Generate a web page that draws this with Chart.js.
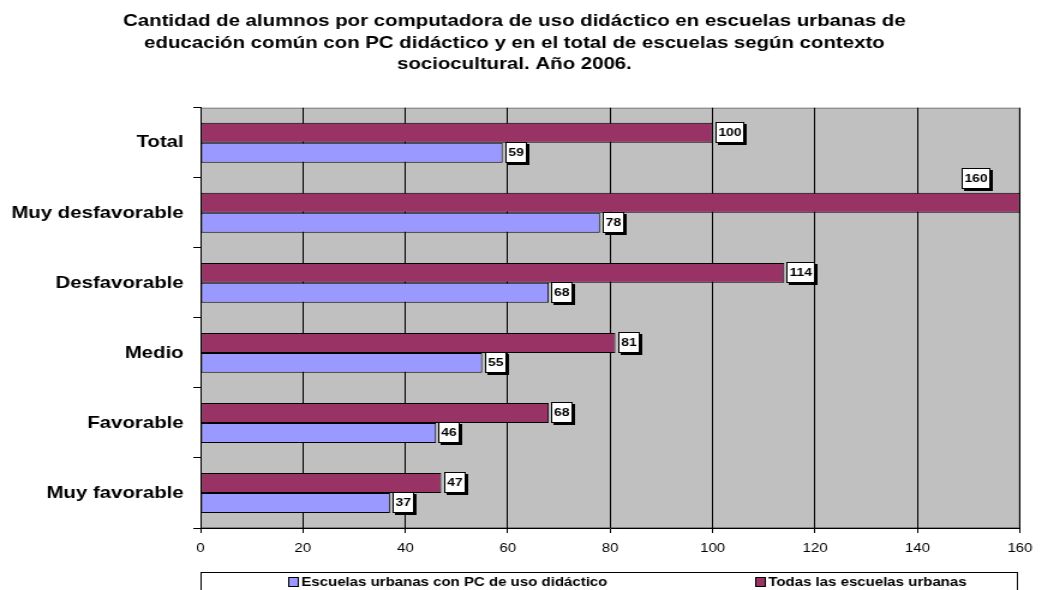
<!DOCTYPE html>
<html>
<head>
<meta charset="utf-8">
<script src="https://cdn.jsdelivr.net/npm/chart.js@4.4.0/dist/chart.umd.min.js"></script>
<style>
  html, body { margin: 0; padding: 0; background: #ffffff; overflow: hidden; }
  #wrap { width: 868px; height: 590px; transform: scaleX(1.2005); transform-origin: 0 0; }
  canvas { display: block; }
</style>
</head>
<body>
<div id="wrap"><canvas id="c" width="868" height="590"></canvas></div>
<script>
// ---- data ----
const categories = ["Total", "Muy desfavorable", "Desfavorable", "Medio", "Favorable", "Muy favorable"];
const conPC = [59, 78, 68, 55, 46, 37];
const todas = [100, 160, 114, 81, 68, 47];
const xTicks = [0, 20, 40, 60, 80, 100, 120, 140, 160];
const seriesNames = ["Escuelas urbanas con PC de uso didáctico", "Todas las escuelas urbanas"];
const titleLines = [
  "Cantidad de alumnos por computadora de uso didáctico en escuelas urbanas de",
  "educación común con PC didáctico y en el total de escuelas según contexto",
  "sociocultural. Año 2006."
];

const FAMILY = "'Liberation Sans', Arial, Helvetica, sans-serif";
const COLOR_PC = "#9999FF";
const COLOR_TODAS = "#993366";

const plotBg = {
  id: "plotBg",
  beforeDraw(chart) {
    const a = chart.chartArea, ctx = chart.ctx;
    ctx.save();
    ctx.fillStyle = "#C0C0C0";
    ctx.fillRect(a.left, a.top, a.right - a.left, a.bottom - a.top);
    ctx.strokeStyle = "#808080";
    ctx.lineWidth = 1;
    ctx.strokeRect(a.left + 0.5, a.top + 0.5, a.right - a.left - 1, a.bottom - a.top - 1);
    ctx.restore();
  }
};

const dataLabels = {
  id: "dataLabels",
  afterDatasetsDraw(chart) {
    const ctx = chart.ctx, area = chart.chartArea;
    ctx.save();
    ctx.font = "bold 11.5px " + FAMILY;
    ctx.textAlign = "center";
    ctx.textBaseline = "middle";
    chart.data.datasets.forEach((ds, di) => {
      chart.getDatasetMeta(di).data.forEach((bar, i) => {
        const txt = String(ds.data[i]);
        const w = Math.round(ctx.measureText(txt).width + 5);
        const h = 21;
        let x = bar.x + 2;
        let cy = bar.y;
        if (x + w + 3 > area.right) { x = bar.x - 25 - w; cy = bar.y - 24.5; }
        x = Math.round(x);
        const y = Math.round(cy - h / 2);
        ctx.fillStyle = "#000";
        ctx.fillRect(x + 2, y + 2, w, h);
        ctx.fillStyle = "#fff";
        ctx.fillRect(x, y, w, h);
        ctx.strokeStyle = "#000";
        ctx.lineWidth = 1;
        ctx.strokeRect(x + 0.5, y + 0.5, w - 1, h - 1);
        ctx.fillStyle = "#000";
        ctx.fillText(txt, x + w / 2, y + h / 2 + 0.5);
      });
    });
    ctx.restore();
  }
};

const boxLegend = {
  id: "boxLegend",
  afterDraw(chart) {
    const ctx = chart.ctx;
    ctx.save();
    ctx.strokeStyle = "#000";
    ctx.lineWidth = 1;
    ctx.strokeRect(167.5, 572.5, 680, 40);
    ctx.font = "bold 12.5px " + FAMILY;
    ctx.textBaseline = "middle";
    ctx.textAlign = "left";
    const cy = 582;
    const items = [
      { text: seriesNames[0], color: COLOR_PC, endX: 506 },
      { text: seriesNames[1], color: COLOR_TODAS, sqX: 629 }
    ];
    items.forEach(it => {
      const tw = ctx.measureText(it.text).width;
      const sq = it.sqX !== undefined ? it.sqX : Math.round(it.endX - tw - 11);
      ctx.fillStyle = it.color;
      ctx.fillRect(sq, cy - 5, 8, 9);
      ctx.strokeStyle = "#000";
      ctx.strokeRect(sq + 0.5, cy - 4.5, 8, 9);
      ctx.fillStyle = "#000";
      ctx.fillText(it.text, sq + 11, cy + 0.5);
    });
    ctx.restore();
  }
};

new Chart(document.getElementById("c"), {
  type: "bar",
  data: {
    labels: categories,
    datasets: [
      { label: seriesNames[1], data: todas, backgroundColor: COLOR_TODAS, borderColor: "#000", borderWidth: 1, borderSkipped: false },
      { label: seriesNames[0], data: conPC, backgroundColor: COLOR_PC, borderColor: "#000", borderWidth: 1, borderSkipped: false }
    ]
  },
  options: {
    indexAxis: "y",
    responsive: false,
    animation: false,
    devicePixelRatio: 1,
    categoryPercentage: 0.57,
    barPercentage: 1,
    layout: { padding: { left: 0, right: 11, top: 0, bottom: 0 } },
    plugins: {
      legend: { display: false },
      tooltip: { enabled: false },
      title: {
        display: true,
        text: titleLines,
        color: "#000",
        font: { family: FAMILY, size: 17, weight: "bold", lineHeight: 1.25 },
        padding: { top: 11, bottom: 33 }
      }
    },
    scales: {
      x: {
        min: 0, max: 160,
        afterBuildTicks: s => { s.ticks = xTicks.map(v => ({ value: v })); },
        grid: { color: "#000", lineWidth: 1, tickLength: 5, drawTicks: true },
        border: { color: "#000", width: 1 },
        ticks: { color: "#000", font: { family: FAMILY, size: 12.5 }, padding: 8, maxRotation: 0, autoSkip: false },
        afterFit: s => { s.height = 62; }
      },
      y: {
        grid: { offset: true, drawOnChartArea: false, color: "#000", tickLength: 6 },
        border: { color: "#000", width: 1 },
        ticks: { color: "#000", font: { family: FAMILY, size: 17, weight: "bold" }, padding: 8 },
        afterFit: s => { s.width = 167; }
      }
    }
  },
  plugins: [plotBg, dataLabels, boxLegend]
});
</script>
</body>
</html>
